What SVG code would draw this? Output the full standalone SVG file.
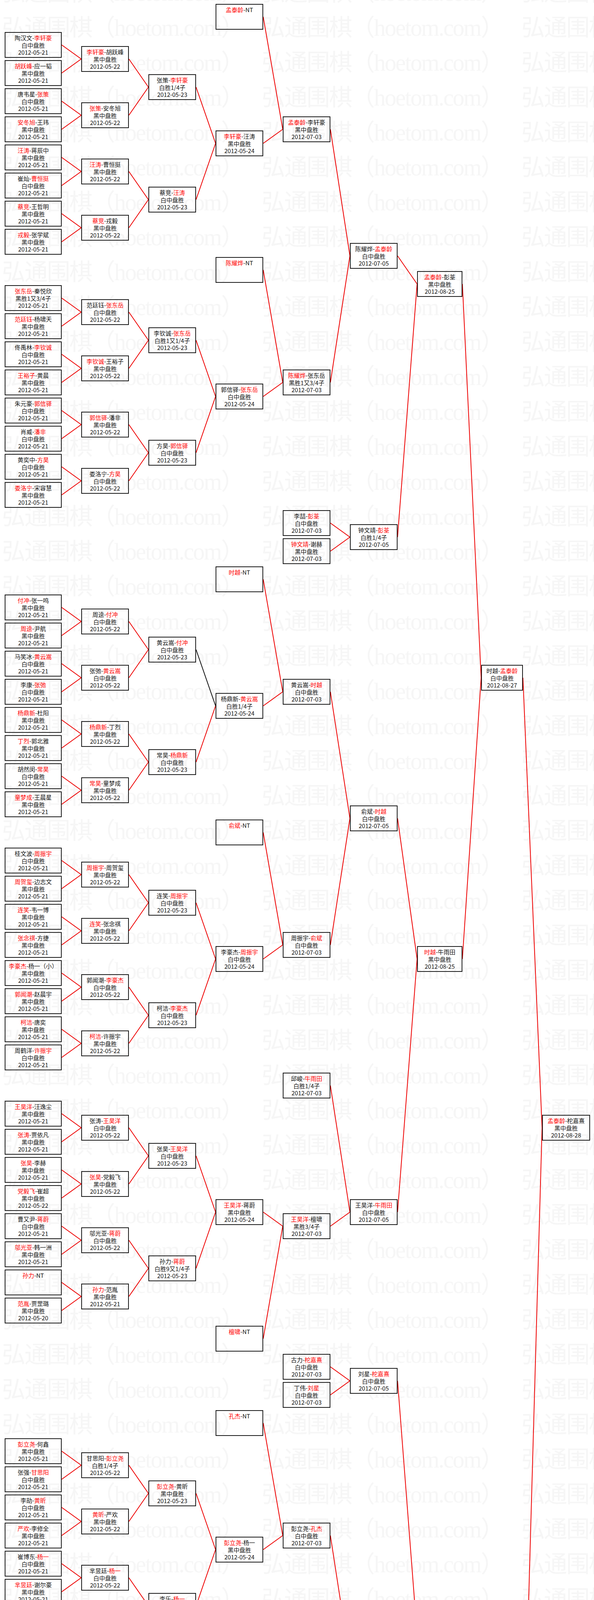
<svg xmlns="http://www.w3.org/2000/svg" width="1521" height="5773" viewBox="0 0 1521 5773">
<style>
text{font-family:"Noto Sans CJK SC","Noto Sans",sans-serif;font-size:15px;text-anchor:middle;fill:#111}
.r{fill:#f00}
rect.b{fill:none;stroke:#1a1a1a;stroke-width:2}
#links path{stroke:#e00;stroke-width:2;fill:none}
#links path.k{stroke:#111}
.wm{font-family:"Liberation Serif","Noto Sans CJK SC",serif;font-size:60px;fill:#f6f6f6;text-anchor:start}
</style>
<defs>
<pattern id="wmp" patternUnits="userSpaceOnUse" x="0" y="22" width="665" height="89.4"><text class="wm" x="5" y="70" textLength="621" lengthAdjust="spacing">弘通围棋（hoetom.com）</text></pattern>
</defs>
<rect width="1521" height="5773" fill="#fff"/>
<rect width="1521" height="5773" fill="url(#wmp)"/>
<g id="links">
<path d="M158 115L208 151"/><path d="M158 187L208 151"/>
<path d="M158 259L208 295"/><path d="M158 331L208 295"/>
<path d="M158 403L208 439"/><path d="M158 475L208 439"/>
<path d="M158 547L208 583"/><path d="M158 619L208 583"/>
<path d="M158 763L208 799"/><path d="M158 835L208 799"/>
<path d="M158 907L208 943"/><path d="M158 979L208 943"/>
<path d="M158 1051L208 1087"/><path d="M158 1123L208 1087"/>
<path d="M158 1195L208 1231"/><path d="M158 1267L208 1231"/>
<path d="M158 1555L208 1591"/><path d="M158 1627L208 1591"/>
<path d="M158 1699L208 1735"/><path d="M158 1771L208 1735"/>
<path d="M158 1843L208 1879"/><path d="M158 1915L208 1879"/>
<path d="M158 1987L208 2023"/><path d="M158 2059L208 2023"/>
<path d="M158 2203L208 2239"/><path d="M158 2275L208 2239"/>
<path d="M158 2347L208 2383"/><path d="M158 2419L208 2383"/>
<path d="M158 2491L208 2527"/><path d="M158 2563L208 2527"/>
<path d="M158 2635L208 2671"/><path d="M158 2707L208 2671"/>
<path d="M158 2851L208 2887"/><path d="M158 2923L208 2887"/>
<path d="M158 2995L208 3031"/><path d="M158 3067L208 3031"/>
<path d="M158 3139L208 3175"/><path d="M158 3211L208 3175"/>
<path d="M158 3283L208 3319"/><path d="M158 3355L208 3319"/>
<path d="M158 3715L208 3751"/><path d="M158 3787L208 3751"/>
<path d="M158 3859L208 3895"/><path d="M158 3931L208 3895"/>
<path d="M158 4003L208 4039"/><path d="M158 4075L208 4039"/>
<path d="M158 4147L208 4183"/><path d="M158 4219L208 4183"/>
<path d="M158 4291L208 4327"/><path d="M158 4363L208 4327"/>
<path d="M158 4435L208 4471"/><path d="M158 4507L208 4471"/>
<path d="M158 4579L208 4615"/><path d="M158 4651L208 4615"/>
<path d="M158 4723L208 4759"/><path d="M158 4795L208 4759"/>
<path d="M158 5155L208 5191"/><path d="M158 5227L208 5191"/>
<path d="M158 5299L208 5335"/><path d="M158 5371L208 5335"/>
<path d="M158 5443L208 5479"/><path d="M158 5515L208 5479"/>
<path d="M158 5587L208 5623"/><path d="M158 5659L208 5623"/>
<path d="M330 151L380 223"/><path d="M330 295L380 223"/>
<path d="M330 439L380 511"/><path d="M330 583L380 511"/>
<path d="M330 799L380 871"/><path d="M330 943L380 871"/>
<path d="M330 1087L380 1159"/><path d="M330 1231L380 1159"/>
<path d="M330 1591L380 1663"/><path d="M330 1735L380 1663"/>
<path d="M330 1879L380 1951"/><path d="M330 2023L380 1951"/>
<path d="M330 2239L380 2311"/><path d="M330 2383L380 2311"/>
<path d="M330 2527L380 2599"/><path d="M330 2671L380 2599"/>
<path d="M330 2887L380 2959"/><path d="M330 3031L380 2959"/>
<path d="M330 3175L380 3247"/><path d="M330 3319L380 3247"/>
<path d="M330 3751L380 3823"/><path d="M330 3895L380 3823"/>
<path d="M330 4039L380 4111"/><path d="M330 4183L380 4111"/>
<path d="M330 4327L380 4399"/><path d="M330 4471L380 4399"/>
<path d="M330 4615L380 4687"/><path d="M330 4759L380 4687"/>
<path d="M330 5191L380 5263"/><path d="M330 5335L380 5263"/>
<path d="M330 5479L380 5551"/><path d="M330 5623L380 5551"/>
<path d="M502 223L552 367"/><path d="M502 511L552 367"/>
<path d="M502 871L552 1015"/><path d="M502 1159L552 1015"/>
<path class="k" d="M502 1663L552 1807"/><path d="M502 1951L552 1807"/>
<path d="M502 2311L552 2455"/><path d="M502 2599L552 2455"/>
<path d="M502 2959L552 3103"/><path d="M502 3247L552 3103"/>
<path d="M502 3823L552 3967"/><path d="M502 4111L552 3967"/>
<path d="M502 4399L552 4543"/><path d="M502 4687L552 4543"/>
<path d="M502 5263L552 5407"/><path d="M502 5551L552 5407"/>
<path d="M674 43L724 331"/><path d="M674 367L724 331"/>
<path d="M674 691L724 979"/><path d="M674 1015L724 979"/>
<path d="M674 1483L724 1771"/><path d="M674 1807L724 1771"/>
<path d="M674 2131L724 2419"/><path d="M674 2455L724 2419"/>
<path d="M674 3103L724 3139"/><path d="M674 3427L724 3139"/>
<path d="M674 3643L724 3931"/><path d="M674 3967L724 3931"/>
<path d="M674 4543L724 4579"/><path d="M674 4867L724 4579"/>
<path d="M674 5407L724 5443"/><path d="M674 5731L724 5443"/>
<path d="M846 331L896 655"/><path d="M846 979L896 655"/>
<path d="M846 1339L896 1375"/><path d="M846 1411L896 1375"/>
<path d="M846 1771L896 2095"/><path d="M846 2419L896 2095"/>
<path d="M846 2779L896 3103"/><path d="M846 3139L896 3103"/>
<path d="M846 3499L896 3535"/><path d="M846 3571L896 3535"/>
<path d="M846 3931L896 4255"/><path d="M846 4579L896 4255"/>
<path d="M846 4939L896 4975"/><path d="M846 5011L896 4975"/>
<path d="M846 5083L896 5407"/><path d="M846 5443L896 5407"/>
<path d="M1018 655L1068 727"/><path d="M1018 1375L1068 727"/>
<path d="M1018 2095L1068 2455"/><path d="M1018 3103L1068 2455"/>
<path d="M1018 3535L1068 4183"/><path d="M1018 4255L1068 4183"/>
<path d="M1018 4975L1068 5335"/><path d="M1018 5407L1068 5335"/>
<path d="M1184 727L1232 1735"/><path d="M1184 2455L1232 1735"/>
<path d="M1184 4183L1232 4615"/><path d="M1184 5335L1232 4615"/>
<path d="M1339 1735L1388 2887"/><path d="M1339 4615L1388 2887"/>
</g>
<g id="round1">
<g id="r1-0" transform="translate(12,82)"><rect class="b" x="1" y="1" width="144" height="64"/><text x="73" y="21">陶汉文-<tspan class="r">李轩豪</tspan></text><text x="73" y="40">白中盘胜</text><text x="73" y="58">2012-05-21</text></g>
<g id="r1-1" transform="translate(12,154)"><rect class="b" x="1" y="1" width="144" height="64"/><text x="73" y="21"><tspan class="r">胡跃峰</tspan>-应一韬</text><text x="73" y="40">黑中盘胜</text><text x="73" y="58">2012-05-21</text></g>
<g id="r1-2" transform="translate(12,226)"><rect class="b" x="1" y="1" width="144" height="64"/><text x="73" y="21">唐韦星-<tspan class="r">张策</tspan></text><text x="73" y="40">白中盘胜</text><text x="73" y="58">2012-05-21</text></g>
<g id="r1-3" transform="translate(12,298)"><rect class="b" x="1" y="1" width="144" height="64"/><text x="73" y="21"><tspan class="r">安冬旭</tspan>-王玮</text><text x="73" y="40">黑中盘胜</text><text x="73" y="58">2012-05-21</text></g>
<g id="r1-4" transform="translate(12,370)"><rect class="b" x="1" y="1" width="144" height="64"/><text x="73" y="21"><tspan class="r">汪涛</tspan>-蒋辰中</text><text x="73" y="40">黑中盘胜</text><text x="73" y="58">2012-05-21</text></g>
<g id="r1-5" transform="translate(12,442)"><rect class="b" x="1" y="1" width="144" height="64"/><text x="73" y="21">崔灿-<tspan class="r">曹恒挺</tspan></text><text x="73" y="40">白中盘胜</text><text x="73" y="58">2012-05-21</text></g>
<g id="r1-6" transform="translate(12,514)"><rect class="b" x="1" y="1" width="144" height="64"/><text x="73" y="21"><tspan class="r">蔡竞</tspan>-王哲明</text><text x="73" y="40">黑中盘胜</text><text x="73" y="58">2012-05-21</text></g>
<g id="r1-7" transform="translate(12,586)"><rect class="b" x="1" y="1" width="144" height="64"/><text x="73" y="21"><tspan class="r">戎毅</tspan>-张学斌</text><text x="73" y="40">黑中盘胜</text><text x="73" y="58">2012-05-21</text></g>
<g id="r1-9" transform="translate(12,730)"><rect class="b" x="1" y="1" width="144" height="64"/><text x="73" y="21"><tspan class="r">张东岳</tspan>-秦悦欣</text><text x="73" y="40">黑胜1又3/4子</text><text x="73" y="58">2012-05-21</text></g>
<g id="r1-10" transform="translate(12,802)"><rect class="b" x="1" y="1" width="144" height="64"/><text x="73" y="21"><tspan class="r">范廷钰</tspan>-杨啸天</text><text x="73" y="40">黑中盘胜</text><text x="73" y="58">2012-05-21</text></g>
<g id="r1-11" transform="translate(12,874)"><rect class="b" x="1" y="1" width="144" height="64"/><text x="73" y="21">佟禹林-<tspan class="r">李钦诚</tspan></text><text x="73" y="40">白中盘胜</text><text x="73" y="58">2012-05-21</text></g>
<g id="r1-12" transform="translate(12,946)"><rect class="b" x="1" y="1" width="144" height="64"/><text x="73" y="21"><tspan class="r">王裕子</tspan>-黄晨</text><text x="73" y="40">黑中盘胜</text><text x="73" y="58">2012-05-21</text></g>
<g id="r1-13" transform="translate(12,1018)"><rect class="b" x="1" y="1" width="144" height="64"/><text x="73" y="21">朱元豪-<tspan class="r">郭信驿</tspan></text><text x="73" y="40">白中盘胜</text><text x="73" y="58">2012-05-21</text></g>
<g id="r1-14" transform="translate(12,1090)"><rect class="b" x="1" y="1" width="144" height="64"/><text x="73" y="21">肖威-<tspan class="r">潘非</tspan></text><text x="73" y="40">白中盘胜</text><text x="73" y="58">2012-05-21</text></g>
<g id="r1-15" transform="translate(12,1162)"><rect class="b" x="1" y="1" width="144" height="64"/><text x="73" y="21">黄奕中-<tspan class="r">方昊</tspan></text><text x="73" y="40">白中盘胜</text><text x="73" y="58">2012-05-21</text></g>
<g id="r1-16" transform="translate(12,1234)"><rect class="b" x="1" y="1" width="144" height="64"/><text x="73" y="21"><tspan class="r">娄洛宁</tspan>-宋容慧</text><text x="73" y="40">黑中盘胜</text><text x="73" y="58">2012-05-21</text></g>
<g id="r1-20" transform="translate(12,1522)"><rect class="b" x="1" y="1" width="144" height="64"/><text x="73" y="21"><tspan class="r">付冲</tspan>-张一鸣</text><text x="73" y="40">黑中盘胜</text><text x="73" y="58">2012-05-21</text></g>
<g id="r1-21" transform="translate(12,1594)"><rect class="b" x="1" y="1" width="144" height="64"/><text x="73" y="21"><tspan class="r">周逵</tspan>-尹航</text><text x="73" y="40">黑中盘胜</text><text x="73" y="58">2012-05-21</text></g>
<g id="r1-22" transform="translate(12,1666)"><rect class="b" x="1" y="1" width="144" height="64"/><text x="73" y="21">马笑冰-<tspan class="r">黄云嵩</tspan></text><text x="73" y="40">白中盘胜</text><text x="73" y="58">2012-05-21</text></g>
<g id="r1-23" transform="translate(12,1738)"><rect class="b" x="1" y="1" width="144" height="64"/><text x="73" y="21">李康-<tspan class="r">张弛</tspan></text><text x="73" y="40">白中盘胜</text><text x="73" y="58">2012-05-21</text></g>
<g id="r1-24" transform="translate(12,1810)"><rect class="b" x="1" y="1" width="144" height="64"/><text x="73" y="21"><tspan class="r">杨鼎新</tspan>-杜阳</text><text x="73" y="40">黑中盘胜</text><text x="73" y="58">2012-05-21</text></g>
<g id="r1-25" transform="translate(12,1882)"><rect class="b" x="1" y="1" width="144" height="64"/><text x="73" y="21"><tspan class="r">丁烈</tspan>-郭北雅</text><text x="73" y="40">黑中盘胜</text><text x="73" y="58">2012-05-21</text></g>
<g id="r1-26" transform="translate(12,1954)"><rect class="b" x="1" y="1" width="144" height="64"/><text x="73" y="21">胡然闵-<tspan class="r">常昊</tspan></text><text x="73" y="40">白中盘胜</text><text x="73" y="58">2012-05-21</text></g>
<g id="r1-27" transform="translate(12,2026)"><rect class="b" x="1" y="1" width="144" height="64"/><text x="73" y="21"><tspan class="r">童梦成</tspan>-王晨星</text><text x="73" y="40">黑中盘胜</text><text x="73" y="58">2012-05-21</text></g>
<g id="r1-29" transform="translate(12,2170)"><rect class="b" x="1" y="1" width="144" height="64"/><text x="73" y="21">桂文波-<tspan class="r">周振宇</tspan></text><text x="73" y="40">白中盘胜</text><text x="73" y="58">2012-05-21</text></g>
<g id="r1-30" transform="translate(12,2242)"><rect class="b" x="1" y="1" width="144" height="64"/><text x="73" y="21"><tspan class="r">周贺玺</tspan>-边志文</text><text x="73" y="40">黑中盘胜</text><text x="73" y="58">2012-05-21</text></g>
<g id="r1-31" transform="translate(12,2314)"><rect class="b" x="1" y="1" width="144" height="64"/><text x="73" y="21"><tspan class="r">连笑</tspan>-韦一博</text><text x="73" y="40">黑中盘胜</text><text x="73" y="58">2012-05-21</text></g>
<g id="r1-32" transform="translate(12,2386)"><rect class="b" x="1" y="1" width="144" height="64"/><text x="73" y="21"><tspan class="r">张念祺</tspan>-方捷</text><text x="73" y="40">黑中盘胜</text><text x="73" y="58">2012-05-21</text></g>
<g id="r1-33" transform="translate(12,2458)"><rect class="b" x="1" y="1" width="144" height="64"/><text x="73" y="21"><tspan class="r">李豪杰</tspan>-杨一（小）</text><text x="73" y="40">黑中盘胜</text><text x="73" y="58">2012-05-21</text></g>
<g id="r1-34" transform="translate(12,2530)"><rect class="b" x="1" y="1" width="144" height="64"/><text x="73" y="21"><tspan class="r">郭闻潮</tspan>-赵晨宇</text><text x="73" y="40">黑中盘胜</text><text x="73" y="58">2012-05-21</text></g>
<g id="r1-35" transform="translate(12,2602)"><rect class="b" x="1" y="1" width="144" height="64"/><text x="73" y="21"><tspan class="r">柯洁</tspan>-唐奕</text><text x="73" y="40">黑中盘胜</text><text x="73" y="58">2012-05-21</text></g>
<g id="r1-36" transform="translate(12,2674)"><rect class="b" x="1" y="1" width="144" height="64"/><text x="73" y="21">周鹤洋-<tspan class="r">许振宇</tspan></text><text x="73" y="40">白中盘胜</text><text x="73" y="58">2012-05-21</text></g>
<g id="r1-38" transform="translate(12,2818)"><rect class="b" x="1" y="1" width="144" height="64"/><text x="73" y="21"><tspan class="r">王昊洋</tspan>-汪逸尘</text><text x="73" y="40">黑中盘胜</text><text x="73" y="58">2012-05-21</text></g>
<g id="r1-39" transform="translate(12,2890)"><rect class="b" x="1" y="1" width="144" height="64"/><text x="73" y="21"><tspan class="r">张涛</tspan>-贾依凡</text><text x="73" y="40">黑中盘胜</text><text x="73" y="58">2012-05-21</text></g>
<g id="r1-40" transform="translate(12,2962)"><rect class="b" x="1" y="1" width="144" height="64"/><text x="73" y="21"><tspan class="r">张昊</tspan>-李赫</text><text x="73" y="40">黑中盘胜</text><text x="73" y="58">2012-05-21</text></g>
<g id="r1-41" transform="translate(12,3034)"><rect class="b" x="1" y="1" width="144" height="64"/><text x="73" y="21"><tspan class="r">党毅飞</tspan>-崔超</text><text x="73" y="40">黑中盘胜</text><text x="73" y="58">2012-05-22</text></g>
<g id="r1-42" transform="translate(12,3106)"><rect class="b" x="1" y="1" width="144" height="64"/><text x="73" y="21">曹又尹-<tspan class="r">蒋蔚</tspan></text><text x="73" y="40">白中盘胜</text><text x="73" y="58">2012-05-21</text></g>
<g id="r1-43" transform="translate(12,3178)"><rect class="b" x="1" y="1" width="144" height="64"/><text x="73" y="21"><tspan class="r">邬光亚</tspan>-韩一洲</text><text x="73" y="40">黑中盘胜</text><text x="73" y="58">2012-05-21</text></g>
<g id="r1-44" transform="translate(12,3250)"><rect class="b" x="1" y="1" width="144" height="64"/><text x="73" y="21"><tspan class="r">孙力</tspan>-NT</text></g>
<g id="r1-45" transform="translate(12,3322)"><rect class="b" x="1" y="1" width="144" height="64"/><text x="73" y="21"><tspan class="r">范胤</tspan>-贾罡璐</text><text x="73" y="40">黑中盘胜</text><text x="73" y="58">2012-05-20</text></g>
<g id="r1-50" transform="translate(12,3682)"><rect class="b" x="1" y="1" width="144" height="64"/><text x="73" y="21"><tspan class="r">彭立尧</tspan>-何鑫</text><text x="73" y="40">黑中盘胜</text><text x="73" y="58">2012-05-21</text></g>
<g id="r1-51" transform="translate(12,3754)"><rect class="b" x="1" y="1" width="144" height="64"/><text x="73" y="21">张强-<tspan class="r">甘思阳</tspan></text><text x="73" y="40">白中盘胜</text><text x="73" y="58">2012-05-21</text></g>
<g id="r1-52" transform="translate(12,3826)"><rect class="b" x="1" y="1" width="144" height="64"/><text x="73" y="21">李劼-<tspan class="r">黄昕</tspan></text><text x="73" y="40">白中盘胜</text><text x="73" y="58">2012-05-21</text></g>
<g id="r1-53" transform="translate(12,3898)"><rect class="b" x="1" y="1" width="144" height="64"/><text x="73" y="21"><tspan class="r">严欢</tspan>-李修全</text><text x="73" y="40">黑中盘胜</text><text x="73" y="58">2012-05-21</text></g>
<g id="r1-54" transform="translate(12,3970)"><rect class="b" x="1" y="1" width="144" height="64"/><text x="73" y="21">崔博东-<tspan class="r">杨一</tspan></text><text x="73" y="40">白中盘胜</text><text x="73" y="58">2012-05-21</text></g>
<g id="r1-55" transform="translate(12,4042)"><rect class="b" x="1" y="1" width="144" height="64"/><text x="73" y="21"><tspan class="r">芈昱廷</tspan>-谢尔豪</text><text x="73" y="40">黑中盘胜</text><text x="73" y="58">2012-05-21</text></g>
<g id="r1-56" transform="translate(12,4114)"><rect class="b" x="1" y="1" width="144" height="64"/><text x="73" y="21">杨冬-<tspan class="r">李乐</tspan></text><text x="73" y="40">白中盘胜</text><text x="73" y="58">2012-05-21</text></g>
<g id="r1-57" transform="translate(12,4186)"><rect class="b" x="1" y="1" width="144" height="64"/><text x="73" y="21"><tspan class="r">张维</tspan>-蔡碧涵</text><text x="73" y="40">黑中盘胜</text><text x="73" y="58">2012-05-21</text></g>
<g id="r1-58" transform="translate(12,4258)"><rect class="b" x="1" y="1" width="144" height="64"/><text x="73" y="21"><tspan class="r">刘曦</tspan>-杨楷文</text><text x="73" y="40">黑中盘胜</text><text x="73" y="58">2012-05-21</text></g>
<g id="r1-59" transform="translate(12,4330)"><rect class="b" x="1" y="1" width="144" height="64"/><text x="73" y="21">杨潜-<tspan class="r">范蕴若</tspan></text><text x="73" y="40">白中盘胜</text><text x="73" y="58">2012-05-21</text></g>
<g id="r1-60" transform="translate(12,4402)"><rect class="b" x="1" y="1" width="144" height="64"/><text x="73" y="21">吴树浩-<tspan class="r">国宇征</tspan></text><text x="73" y="40">白中盘胜</text><text x="73" y="58">2012-05-21</text></g>
<g id="r1-61" transform="translate(12,4474)"><rect class="b" x="1" y="1" width="144" height="64"/><text x="73" y="21"><tspan class="r">毛睿龙</tspan>-吴楷</text><text x="73" y="40">黑中盘胜</text><text x="73" y="58">2012-05-21</text></g>
<g id="r1-62" transform="translate(12,4546)"><rect class="b" x="1" y="1" width="144" height="64"/><text x="73" y="21"><tspan class="r">王垚</tspan>-雷震坤</text><text x="73" y="40">黑中盘胜</text><text x="73" y="58">2012-05-21</text></g>
<g id="r1-63" transform="translate(12,4618)"><rect class="b" x="1" y="1" width="144" height="64"/><text x="73" y="21">陈贤-<tspan class="r">郑淼鑫</tspan></text><text x="73" y="40">白中盘胜</text><text x="73" y="58">2012-05-21</text></g>
<g id="r1-64" transform="translate(12,4690)"><rect class="b" x="1" y="1" width="144" height="64"/><text x="73" y="21"><tspan class="r">罗洗河</tspan>-王异新</text><text x="73" y="40">黑胜5又3/4子</text><text x="73" y="58">2012-05-21</text></g>
<g id="r1-65" transform="translate(12,4762)"><rect class="b" x="1" y="1" width="144" height="64"/><text x="73" y="21"><tspan class="r">张亚博</tspan>-祁立鹤</text><text x="73" y="40">黑中盘胜</text><text x="73" y="58">2012-05-21</text></g>
<g id="r1-70" transform="translate(12,5122)"><rect class="b" x="1" y="1" width="144" height="64"/><text x="73" y="21"><tspan class="r">赵哲伦</tspan>-李铭</text><text x="73" y="40">黑中盘胜</text><text x="73" y="58">2012-05-21</text></g>
<g id="r1-71" transform="translate(12,5194)"><rect class="b" x="1" y="1" width="144" height="64"/><text x="73" y="21"><tspan class="r">张立</tspan>-夏晨琨</text><text x="73" y="40">黑中盘胜</text><text x="73" y="58">2012-05-21</text></g>
<g id="r1-72" transform="translate(12,5266)"><rect class="b" x="1" y="1" width="144" height="64"/><text x="73" y="21"><tspan class="r">辜梓豪</tspan>-芮乃伟</text><text x="73" y="40">黑中盘胜</text><text x="73" y="58">2012-05-21</text></g>
<g id="r1-73" transform="translate(12,5338)"><rect class="b" x="1" y="1" width="144" height="64"/><text x="73" y="21">李小溪-<tspan class="r">陶欣然</tspan></text><text x="73" y="40">白中盘胜</text><text x="73" y="58">2012-05-21</text></g>
<g id="r1-74" transform="translate(12,5410)"><rect class="b" x="1" y="1" width="144" height="64"/><text x="73" y="21"><tspan class="r">王磊</tspan>-NT</text></g>
<g id="r1-75" transform="translate(12,5482)"><rect class="b" x="1" y="1" width="144" height="64"/><text x="73" y="21"><tspan class="r">陈浩</tspan>-单子腾</text><text x="73" y="40">黑中盘胜</text><text x="73" y="58">2012-05-21</text></g>
<g id="r1-76" transform="translate(12,5554)"><rect class="b" x="1" y="1" width="144" height="64"/><text x="73" y="21">廖行文-<tspan class="r">吴天</tspan></text><text x="73" y="40">白中盘胜</text><text x="73" y="58">2012-05-21</text></g>
<g id="r1-77" transform="translate(12,5626)"><rect class="b" x="1" y="1" width="144" height="64"/><text x="73" y="21">王爽-<tspan class="r">韩晗</tspan></text><text x="73" y="40">白中盘胜</text><text x="73" y="58">2012-05-21</text></g>
</g>
<g id="round2">
<g id="r2-0" transform="translate(208,118)"><rect class="b" x="1" y="1" width="120" height="64"/><text x="61" y="21"><tspan class="r">李轩豪</tspan>-胡跃峰</text><text x="61" y="40">黑中盘胜</text><text x="61" y="58">2012-05-22</text></g>
<g id="r2-2" transform="translate(208,262)"><rect class="b" x="1" y="1" width="120" height="64"/><text x="61" y="21"><tspan class="r">张策</tspan>-安冬旭</text><text x="61" y="40">黑中盘胜</text><text x="61" y="58">2012-05-22</text></g>
<g id="r2-4" transform="translate(208,406)"><rect class="b" x="1" y="1" width="120" height="64"/><text x="61" y="21"><tspan class="r">汪涛</tspan>-曹恒挺</text><text x="61" y="40">黑中盘胜</text><text x="61" y="58">2012-05-22</text></g>
<g id="r2-6" transform="translate(208,550)"><rect class="b" x="1" y="1" width="120" height="64"/><text x="61" y="21"><tspan class="r">蔡竞</tspan>-戎毅</text><text x="61" y="40">黑中盘胜</text><text x="61" y="58">2012-05-22</text></g>
<g id="r2-9" transform="translate(208,766)"><rect class="b" x="1" y="1" width="120" height="64"/><text x="61" y="21">范廷钰-<tspan class="r">张东岳</tspan></text><text x="61" y="40">白中盘胜</text><text x="61" y="58">2012-05-22</text></g>
<g id="r2-11" transform="translate(208,910)"><rect class="b" x="1" y="1" width="120" height="64"/><text x="61" y="21"><tspan class="r">李钦诚</tspan>-王裕子</text><text x="61" y="40">黑中盘胜</text><text x="61" y="58">2012-05-22</text></g>
<g id="r2-13" transform="translate(208,1054)"><rect class="b" x="1" y="1" width="120" height="64"/><text x="61" y="21"><tspan class="r">郭信驿</tspan>-潘非</text><text x="61" y="40">黑中盘胜</text><text x="61" y="58">2012-05-22</text></g>
<g id="r2-15" transform="translate(208,1198)"><rect class="b" x="1" y="1" width="120" height="64"/><text x="61" y="21">娄洛宁-<tspan class="r">方昊</tspan></text><text x="61" y="40">白中盘胜</text><text x="61" y="58">2012-05-22</text></g>
<g id="r2-20" transform="translate(208,1558)"><rect class="b" x="1" y="1" width="120" height="64"/><text x="61" y="21">周逵-<tspan class="r">付冲</tspan></text><text x="61" y="40">白中盘胜</text><text x="61" y="58">2012-05-22</text></g>
<g id="r2-22" transform="translate(208,1702)"><rect class="b" x="1" y="1" width="120" height="64"/><text x="61" y="21">张弛-<tspan class="r">黄云嵩</tspan></text><text x="61" y="40">白中盘胜</text><text x="61" y="58">2012-05-22</text></g>
<g id="r2-24" transform="translate(208,1846)"><rect class="b" x="1" y="1" width="120" height="64"/><text x="61" y="21"><tspan class="r">杨鼎新</tspan>-丁烈</text><text x="61" y="40">黑中盘胜</text><text x="61" y="58">2012-05-22</text></g>
<g id="r2-26" transform="translate(208,1990)"><rect class="b" x="1" y="1" width="120" height="64"/><text x="61" y="21"><tspan class="r">常昊</tspan>-童梦成</text><text x="61" y="40">黑中盘胜</text><text x="61" y="58">2012-05-22</text></g>
<g id="r2-29" transform="translate(208,2206)"><rect class="b" x="1" y="1" width="120" height="64"/><text x="61" y="21"><tspan class="r">周振宇</tspan>-周贺玺</text><text x="61" y="40">黑中盘胜</text><text x="61" y="58">2012-05-22</text></g>
<g id="r2-31" transform="translate(208,2350)"><rect class="b" x="1" y="1" width="120" height="64"/><text x="61" y="21"><tspan class="r">连笑</tspan>-张念祺</text><text x="61" y="40">黑中盘胜</text><text x="61" y="58">2012-05-22</text></g>
<g id="r2-33" transform="translate(208,2494)"><rect class="b" x="1" y="1" width="120" height="64"/><text x="61" y="21">郭闻潮-<tspan class="r">李豪杰</tspan></text><text x="61" y="40">白中盘胜</text><text x="61" y="58">2012-05-22</text></g>
<g id="r2-35" transform="translate(208,2638)"><rect class="b" x="1" y="1" width="120" height="64"/><text x="61" y="21"><tspan class="r">柯洁</tspan>-许振宇</text><text x="61" y="40">黑中盘胜</text><text x="61" y="58">2012-05-22</text></g>
<g id="r2-38" transform="translate(208,2854)"><rect class="b" x="1" y="1" width="120" height="64"/><text x="61" y="21">张涛-<tspan class="r">王昊洋</tspan></text><text x="61" y="40">白中盘胜</text><text x="61" y="58">2012-05-22</text></g>
<g id="r2-40" transform="translate(208,2998)"><rect class="b" x="1" y="1" width="120" height="64"/><text x="61" y="21"><tspan class="r">张昊</tspan>-党毅飞</text><text x="61" y="40">黑中盘胜</text><text x="61" y="58">2012-05-22</text></g>
<g id="r2-42" transform="translate(208,3142)"><rect class="b" x="1" y="1" width="120" height="64"/><text x="61" y="21">邬光亚-<tspan class="r">蒋蔚</tspan></text><text x="61" y="40">白中盘胜</text><text x="61" y="58">2012-05-22</text></g>
<g id="r2-44" transform="translate(208,3286)"><rect class="b" x="1" y="1" width="120" height="64"/><text x="61" y="21"><tspan class="r">孙力</tspan>-范胤</text><text x="61" y="40">黑中盘胜</text><text x="61" y="58">2012-05-21</text></g>
<g id="r2-50" transform="translate(208,3718)"><rect class="b" x="1" y="1" width="120" height="64"/><text x="61" y="21">甘思阳-<tspan class="r">彭立尧</tspan></text><text x="61" y="40">白胜1/4子</text><text x="61" y="58">2012-05-22</text></g>
<g id="r2-52" transform="translate(208,3862)"><rect class="b" x="1" y="1" width="120" height="64"/><text x="61" y="21"><tspan class="r">黄昕</tspan>-严欢</text><text x="61" y="40">黑中盘胜</text><text x="61" y="58">2012-05-22</text></g>
<g id="r2-54" transform="translate(208,4006)"><rect class="b" x="1" y="1" width="120" height="64"/><text x="61" y="21">芈昱廷-<tspan class="r">杨一</tspan></text><text x="61" y="40">白中盘胜</text><text x="61" y="58">2012-05-22</text></g>
<g id="r2-56" transform="translate(208,4150)"><rect class="b" x="1" y="1" width="120" height="64"/><text x="61" y="21"><tspan class="r">李乐</tspan>-张维</text><text x="61" y="40">黑中盘胜</text><text x="61" y="58">2012-05-22</text></g>
<g id="r2-58" transform="translate(208,4294)"><rect class="b" x="1" y="1" width="120" height="64"/><text x="61" y="21"><tspan class="r">刘曦</tspan>-范蕴若</text><text x="61" y="40">黑中盘胜</text><text x="61" y="58">2012-05-22</text></g>
<g id="r2-60" transform="translate(208,4438)"><rect class="b" x="1" y="1" width="120" height="64"/><text x="61" y="21">毛睿龙-<tspan class="r">国宇征</tspan></text><text x="61" y="40">白中盘胜</text><text x="61" y="58">2012-05-22</text></g>
<g id="r2-62" transform="translate(208,4582)"><rect class="b" x="1" y="1" width="120" height="64"/><text x="61" y="21"><tspan class="r">王垚</tspan>-郑淼鑫</text><text x="61" y="40">黑中盘胜</text><text x="61" y="58">2012-05-22</text></g>
<g id="r2-64" transform="translate(208,4726)"><rect class="b" x="1" y="1" width="120" height="64"/><text x="61" y="21"><tspan class="r">罗洗河</tspan>-张亚博</text><text x="61" y="40">黑中盘胜</text><text x="61" y="58">2012-05-22</text></g>
<g id="r2-70" transform="translate(208,5158)"><rect class="b" x="1" y="1" width="120" height="64"/><text x="61" y="21">张立-<tspan class="r">赵哲伦</tspan></text><text x="61" y="40">白中盘胜</text><text x="61" y="58">2012-05-22</text></g>
<g id="r2-72" transform="translate(208,5302)"><rect class="b" x="1" y="1" width="120" height="64"/><text x="61" y="21"><tspan class="r">辜梓豪</tspan>-陶欣然</text><text x="61" y="40">黑中盘胜</text><text x="61" y="58">2012-05-22</text></g>
<g id="r2-74" transform="translate(208,5446)"><rect class="b" x="1" y="1" width="120" height="64"/><text x="61" y="21"><tspan class="r">王磊</tspan>-陈浩</text><text x="61" y="40">黑中盘胜</text><text x="61" y="58">2012-05-22</text></g>
<g id="r2-76" transform="translate(208,5590)"><rect class="b" x="1" y="1" width="120" height="64"/><text x="61" y="21"><tspan class="r">吴天</tspan>-韩晗</text><text x="61" y="40">黑中盘胜</text><text x="61" y="58">2012-05-22</text></g>
</g>
<g id="round3">
<g id="r3-0" transform="translate(380,190)"><rect class="b" x="1" y="1" width="120" height="64"/><text x="61" y="21">张策-<tspan class="r">李轩豪</tspan></text><text x="61" y="40">白胜1/4子</text><text x="61" y="58">2012-05-23</text></g>
<g id="r3-4" transform="translate(380,478)"><rect class="b" x="1" y="1" width="120" height="64"/><text x="61" y="21">蔡竞-<tspan class="r">汪涛</tspan></text><text x="61" y="40">白中盘胜</text><text x="61" y="58">2012-05-23</text></g>
<g id="r3-9" transform="translate(380,838)"><rect class="b" x="1" y="1" width="120" height="64"/><text x="61" y="21">李钦诚-<tspan class="r">张东岳</tspan></text><text x="61" y="40">白胜1又1/4子</text><text x="61" y="58">2012-05-23</text></g>
<g id="r3-13" transform="translate(380,1126)"><rect class="b" x="1" y="1" width="120" height="64"/><text x="61" y="21">方昊-<tspan class="r">郭信驿</tspan></text><text x="61" y="40">白中盘胜</text><text x="61" y="58">2012-05-23</text></g>
<g id="r3-20" transform="translate(380,1630)"><rect class="b" x="1" y="1" width="120" height="64"/><text x="61" y="21">黄云嵩-<tspan class="r">付冲</tspan></text><text x="61" y="40">白中盘胜</text><text x="61" y="58">2012-05-23</text></g>
<g id="r3-24" transform="translate(380,1918)"><rect class="b" x="1" y="1" width="120" height="64"/><text x="61" y="21">常昊-<tspan class="r">杨鼎新</tspan></text><text x="61" y="40">白中盘胜</text><text x="61" y="58">2012-05-23</text></g>
<g id="r3-29" transform="translate(380,2278)"><rect class="b" x="1" y="1" width="120" height="64"/><text x="61" y="21">连笑-<tspan class="r">周振宇</tspan></text><text x="61" y="40">白中盘胜</text><text x="61" y="58">2012-05-23</text></g>
<g id="r3-33" transform="translate(380,2566)"><rect class="b" x="1" y="1" width="120" height="64"/><text x="61" y="21">柯洁-<tspan class="r">李豪杰</tspan></text><text x="61" y="40">白中盘胜</text><text x="61" y="58">2012-05-23</text></g>
<g id="r3-38" transform="translate(380,2926)"><rect class="b" x="1" y="1" width="120" height="64"/><text x="61" y="21">张昊-<tspan class="r">王昊洋</tspan></text><text x="61" y="40">白中盘胜</text><text x="61" y="58">2012-05-23</text></g>
<g id="r3-42" transform="translate(380,3214)"><rect class="b" x="1" y="1" width="120" height="64"/><text x="61" y="21">孙力-<tspan class="r">蒋蔚</tspan></text><text x="61" y="40">白胜9又1/4子</text><text x="61" y="58">2012-05-23</text></g>
<g id="r3-50" transform="translate(380,3790)"><rect class="b" x="1" y="1" width="120" height="64"/><text x="61" y="21"><tspan class="r">彭立尧</tspan>-黄昕</text><text x="61" y="40">黑中盘胜</text><text x="61" y="58">2012-05-23</text></g>
<g id="r3-54" transform="translate(380,4078)"><rect class="b" x="1" y="1" width="120" height="64"/><text x="61" y="21">李乐-<tspan class="r">杨一</tspan></text><text x="61" y="40">白中盘胜</text><text x="61" y="58">2012-05-23</text></g>
<g id="r3-58" transform="translate(380,4366)"><rect class="b" x="1" y="1" width="120" height="64"/><text x="61" y="21"><tspan class="r">刘曦</tspan>-国宇征</text><text x="61" y="40">黑中盘胜</text><text x="61" y="58">2012-05-23</text></g>
<g id="r3-62" transform="translate(380,4654)"><rect class="b" x="1" y="1" width="120" height="64"/><text x="61" y="21"><tspan class="r">王垚</tspan>-罗洗河</text><text x="61" y="40">黑中盘胜</text><text x="61" y="58">2012-05-23</text></g>
<g id="r3-70" transform="translate(380,5230)"><rect class="b" x="1" y="1" width="120" height="64"/><text x="61" y="21"><tspan class="r">赵哲伦</tspan>-辜梓豪</text><text x="61" y="40">黑中盘胜</text><text x="61" y="58">2012-05-23</text></g>
<g id="r3-74" transform="translate(380,5518)"><rect class="b" x="1" y="1" width="120" height="64"/><text x="61" y="21">吴天-<tspan class="r">王磊</tspan></text><text x="61" y="40">白中盘胜</text><text x="61" y="58">2012-05-23</text></g>
</g>
<g id="round4">
<g id="r4-1" transform="translate(552,10)"><rect class="b" x="1" y="1" width="120" height="64"/><text x="61" y="21"><tspan class="r">孟泰龄</tspan>-NT</text></g>
<g id="r4-2" transform="translate(552,334)"><rect class="b" x="1" y="1" width="120" height="64"/><text x="61" y="21"><tspan class="r">李轩豪</tspan>-汪涛</text><text x="61" y="40">黑中盘胜</text><text x="61" y="58">2012-05-24</text></g>
<g id="r4-3" transform="translate(552,658)"><rect class="b" x="1" y="1" width="120" height="64"/><text x="61" y="21"><tspan class="r">陈耀烨</tspan>-NT</text></g>
<g id="r4-4" transform="translate(552,982)"><rect class="b" x="1" y="1" width="120" height="64"/><text x="61" y="21">郭信驿-<tspan class="r">张东岳</tspan></text><text x="61" y="40">白中盘胜</text><text x="61" y="58">2012-05-24</text></g>
<g id="r4-5" transform="translate(552,1450)"><rect class="b" x="1" y="1" width="120" height="64"/><text x="61" y="21"><tspan class="r">时越</tspan>-NT</text></g>
<g id="r4-6" transform="translate(552,1774)"><rect class="b" x="1" y="1" width="120" height="64"/><text x="61" y="21">杨鼎新-<tspan class="r">黄云嵩</tspan></text><text x="61" y="40">白胜1/4子</text><text x="61" y="58">2012-05-24</text></g>
<g id="r4-7" transform="translate(552,2098)"><rect class="b" x="1" y="1" width="120" height="64"/><text x="61" y="21"><tspan class="r">俞斌</tspan>-NT</text></g>
<g id="r4-8" transform="translate(552,2422)"><rect class="b" x="1" y="1" width="120" height="64"/><text x="61" y="21">李豪杰-<tspan class="r">周振宇</tspan></text><text x="61" y="40">白中盘胜</text><text x="61" y="58">2012-05-24</text></g>
<g id="r4-9" transform="translate(552,3070)"><rect class="b" x="1" y="1" width="120" height="64"/><text x="61" y="21"><tspan class="r">王昊洋</tspan>-蒋蔚</text><text x="61" y="40">黑中盘胜</text><text x="61" y="58">2012-05-24</text></g>
<g id="r4-10" transform="translate(552,3394)"><rect class="b" x="1" y="1" width="120" height="64"/><text x="61" y="21"><tspan class="r">檀啸</tspan>-NT</text></g>
<g id="r4-11" transform="translate(552,3610)"><rect class="b" x="1" y="1" width="120" height="64"/><text x="61" y="21"><tspan class="r">孔杰</tspan>-NT</text></g>
<g id="r4-12" transform="translate(552,3934)"><rect class="b" x="1" y="1" width="120" height="64"/><text x="61" y="21"><tspan class="r">彭立尧</tspan>-杨一</text><text x="61" y="40">黑中盘胜</text><text x="61" y="58">2012-05-24</text></g>
<g id="r4-13" transform="translate(552,4510)"><rect class="b" x="1" y="1" width="120" height="64"/><text x="61" y="21">王垚-<tspan class="r">刘曦</tspan></text><text x="61" y="40">白中盘胜</text><text x="61" y="58">2012-05-24</text></g>
<g id="r4-14" transform="translate(552,4834)"><rect class="b" x="1" y="1" width="120" height="64"/><text x="61" y="21"><tspan class="r">王雷</tspan>-NT</text></g>
<g id="r4-15" transform="translate(552,5374)"><rect class="b" x="1" y="1" width="120" height="64"/><text x="61" y="21"><tspan class="r">赵哲伦</tspan>-王磊</text><text x="61" y="40">黑中盘胜</text><text x="61" y="58">2012-05-24</text></g>
<g id="r4-16" transform="translate(552,5698)"><rect class="b" x="1" y="1" width="120" height="64"/><text x="61" y="21"><tspan class="r">聂卫平</tspan>-NT</text></g>
</g>
<g id="round5">
<g id="r5-1" transform="translate(724,298)"><rect class="b" x="1" y="1" width="120" height="64"/><text x="61" y="21"><tspan class="r">孟泰龄</tspan>-李轩豪</text><text x="61" y="40">黑中盘胜</text><text x="61" y="58">2012-07-03</text></g>
<g id="r5-2" transform="translate(724,946)"><rect class="b" x="1" y="1" width="120" height="64"/><text x="61" y="21"><tspan class="r">陈耀烨</tspan>-张东岳</text><text x="61" y="40">黑胜1又3/4子</text><text x="61" y="58">2012-07-03</text></g>
<g id="r5-3" transform="translate(724,1306)"><rect class="b" x="1" y="1" width="120" height="64"/><text x="61" y="21">李喆-<tspan class="r">彭荃</tspan></text><text x="61" y="40">白中盘胜</text><text x="61" y="58">2012-07-03</text></g>
<g id="r5-4" transform="translate(724,1378)"><rect class="b" x="1" y="1" width="120" height="64"/><text x="61" y="21"><tspan class="r">钟文靖</tspan>-谢赫</text><text x="61" y="40">黑中盘胜</text><text x="61" y="58">2012-07-03</text></g>
<g id="r5-5" transform="translate(724,1738)"><rect class="b" x="1" y="1" width="120" height="64"/><text x="61" y="21">黄云嵩-<tspan class="r">时越</tspan></text><text x="61" y="40">白中盘胜</text><text x="61" y="58">2012-07-03</text></g>
<g id="r5-6" transform="translate(724,2386)"><rect class="b" x="1" y="1" width="120" height="64"/><text x="61" y="21">周振宇-<tspan class="r">俞斌</tspan></text><text x="61" y="40">白中盘胜</text><text x="61" y="58">2012-07-03</text></g>
<g id="r5-7" transform="translate(724,2746)"><rect class="b" x="1" y="1" width="120" height="64"/><text x="61" y="21">邱峻-<tspan class="r">牛雨田</tspan></text><text x="61" y="40">白胜1/4子</text><text x="61" y="58">2012-07-03</text></g>
<g id="r5-8" transform="translate(724,3106)"><rect class="b" x="1" y="1" width="120" height="64"/><text x="61" y="21"><tspan class="r">王昊洋</tspan>-檀啸</text><text x="61" y="40">黑胜3/4子</text><text x="61" y="58">2012-07-03</text></g>
<g id="r5-9" transform="translate(724,3466)"><rect class="b" x="1" y="1" width="120" height="64"/><text x="61" y="21">古力-<tspan class="r">柁嘉熹</tspan></text><text x="61" y="40">白中盘胜</text><text x="61" y="58">2012-07-03</text></g>
<g id="r5-10" transform="translate(724,3538)"><rect class="b" x="1" y="1" width="120" height="64"/><text x="61" y="21">丁伟-<tspan class="r">刘星</tspan></text><text x="61" y="40">白中盘胜</text><text x="61" y="58">2012-07-03</text></g>
<g id="r5-11" transform="translate(724,3898)"><rect class="b" x="1" y="1" width="120" height="64"/><text x="61" y="21">彭立尧-<tspan class="r">孔杰</tspan></text><text x="61" y="40">白中盘胜</text><text x="61" y="58">2012-07-03</text></g>
<g id="r5-12" transform="translate(724,4546)"><rect class="b" x="1" y="1" width="120" height="64"/><text x="61" y="21"><tspan class="r">刘曦</tspan>-王雷</text><text x="61" y="40">黑中盘胜</text><text x="61" y="58">2012-07-03</text></g>
<g id="r5-13" transform="translate(724,4906)"><rect class="b" x="1" y="1" width="120" height="64"/><text x="61" y="21">周睿羊-<tspan class="r">王檄</tspan></text><text x="61" y="40">白胜1/4子</text><text x="61" y="58">2012-07-03</text></g>
<g id="r5-14" transform="translate(724,4978)"><rect class="b" x="1" y="1" width="120" height="64"/><text x="61" y="21">胡耀宇-<tspan class="r">朴文垚</tspan></text><text x="61" y="40">白中盘胜</text><text x="61" y="58">2012-07-03</text></g>
<g id="r5-15" transform="translate(724,5050)"><rect class="b" x="1" y="1" width="120" height="64"/><text x="61" y="21">江维杰-<tspan class="r">古灵益</tspan></text><text x="61" y="40">白中盘胜</text><text x="61" y="58">2012-07-03</text></g>
<g id="r5-16" transform="translate(724,5410)"><rect class="b" x="1" y="1" width="120" height="64"/><text x="61" y="21">聂卫平-<tspan class="r">赵哲伦</tspan></text><text x="61" y="40">白胜2又1/4子</text><text x="61" y="58">2012-07-03</text></g>
</g>
<g id="round6">
<g id="r6-1" transform="translate(896,622)"><rect class="b" x="1" y="1" width="120" height="64"/><text x="61" y="21">陈耀烨-<tspan class="r">孟泰龄</tspan></text><text x="61" y="40">白中盘胜</text><text x="61" y="58">2012-07-05</text></g>
<g id="r6-2" transform="translate(896,1342)"><rect class="b" x="1" y="1" width="120" height="64"/><text x="61" y="21">钟文靖-<tspan class="r">彭荃</tspan></text><text x="61" y="40">白胜1/4子</text><text x="61" y="58">2012-07-05</text></g>
<g id="r6-3" transform="translate(896,2062)"><rect class="b" x="1" y="1" width="120" height="64"/><text x="61" y="21">俞斌-<tspan class="r">时越</tspan></text><text x="61" y="40">白中盘胜</text><text x="61" y="58">2012-07-05</text></g>
<g id="r6-4" transform="translate(896,3070)"><rect class="b" x="1" y="1" width="120" height="64"/><text x="61" y="21">王昊洋-<tspan class="r">牛雨田</tspan></text><text x="61" y="40">白中盘胜</text><text x="61" y="58">2012-07-05</text></g>
<g id="r6-5" transform="translate(896,3502)"><rect class="b" x="1" y="1" width="120" height="64"/><text x="61" y="21">刘星-<tspan class="r">柁嘉熹</tspan></text><text x="61" y="40">白中盘胜</text><text x="61" y="58">2012-07-05</text></g>
<g id="r6-6" transform="translate(896,4222)"><rect class="b" x="1" y="1" width="120" height="64"/><text x="61" y="21">刘曦-<tspan class="r">孔杰</tspan></text><text x="61" y="40">白中盘胜</text><text x="61" y="58">2012-07-05</text></g>
<g id="r6-7" transform="translate(896,4942)"><rect class="b" x="1" y="1" width="120" height="64"/><text x="61" y="21"><tspan class="r">王檄</tspan>-朴文垚</text><text x="61" y="40">黑中盘胜</text><text x="61" y="58">2012-07-05</text></g>
<g id="r6-8" transform="translate(896,5374)"><rect class="b" x="1" y="1" width="120" height="64"/><text x="61" y="21"><tspan class="r">古灵益</tspan>-赵哲伦</text><text x="61" y="40">黑中盘胜</text><text x="61" y="58">2012-07-05</text></g>
</g>
<g id="round7">
<g id="r7-1" transform="translate(1068,694)"><rect class="b" x="1" y="1" width="114" height="64"/><text x="58" y="21"><tspan class="r">孟泰龄</tspan>-彭荃</text><text x="58" y="40">黑中盘胜</text><text x="58" y="58">2012-08-25</text></g>
<g id="r7-2" transform="translate(1068,2422)"><rect class="b" x="1" y="1" width="114" height="64"/><text x="58" y="21"><tspan class="r">时越</tspan>-牛雨田</text><text x="58" y="40">黑中盘胜</text><text x="58" y="58">2012-08-25</text></g>
<g id="r7-3" transform="translate(1068,4150)"><rect class="b" x="1" y="1" width="114" height="64"/><text x="58" y="21"><tspan class="r">柁嘉熹</tspan>-孔杰</text><text x="58" y="40">黑中盘胜</text><text x="58" y="58">2012-08-25</text></g>
<g id="r7-4" transform="translate(1068,5302)"><rect class="b" x="1" y="1" width="114" height="64"/><text x="58" y="21"><tspan class="r">王檄</tspan>-古灵益</text><text x="58" y="40">黑胜1又3/4子</text><text x="58" y="58">2012-08-25</text></g>
</g>
<g id="round8">
<g id="r8-1" transform="translate(1232,1702)"><rect class="b" x="1" y="1" width="105" height="64"/><text x="53.5" y="21">时越-<tspan class="r">孟泰龄</tspan></text><text x="53.5" y="40">白中盘胜</text><text x="53.5" y="58">2012-08-27</text></g>
<g id="r8-2" transform="translate(1232,4582)"><rect class="b" x="1" y="1" width="105" height="64"/><text x="53.5" y="21">王檄-<tspan class="r">柁嘉熹</tspan></text><text x="53.5" y="40">白胜1/4子</text><text x="53.5" y="58">2012-08-27</text></g>
</g>
<g id="final">
<g id="r9-1" transform="translate(1388,2854)"><rect class="b" x="1" y="1" width="121" height="64"/><text x="61.5" y="21"><tspan class="r">孟泰龄</tspan>-柁嘉熹</text><text x="61.5" y="40">黑中盘胜</text><text x="61.5" y="58">2012-08-28</text></g>
</g>
</svg>
